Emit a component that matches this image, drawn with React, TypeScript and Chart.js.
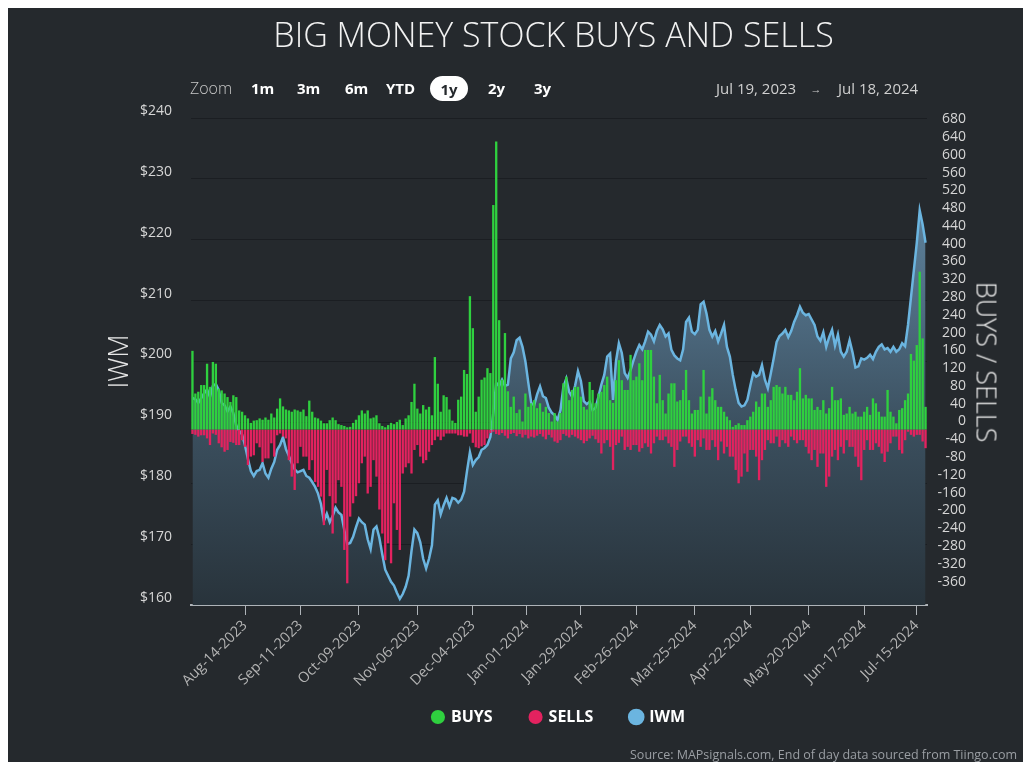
import React, { useEffect, useRef } from "react";
import { Chart, registerables } from "chart.js";

Chart.register(...registerables);

// ---------- data ----------
const FIRST_DAY = "2023-07-19";
const LAST_DAY = "2024-07-18";
const MARKET_HOLIDAYS = [
  "2023-09-04", "2023-11-23", "2023-12-25", "2024-01-01", "2024-01-15",
  "2024-02-19", "2024-03-29", "2024-05-27", "2024-06-19", "2024-07-04",
];

const IWM = [
  194.0, 193.8, 193.2, 194.0, 194.8, 195.4, 194.2, 196.0, 196.3, 195.3,
  193.2, 192.8, 191.8, 192.6, 191.5, 189.5, 188.6, 188.0, 186.2, 184.0,
  182.0, 181.2, 182.0, 182.2, 183.3, 181.6, 180.9, 182.4, 183.5, 185.5,
  186.3, 187.6, 185.6, 184.5, 183.3, 182.3, 181.8, 182.0, 182.2, 181.2,
  180.9, 180.2, 179.4, 178.3, 176.6, 173.8, 175.0, 173.6, 174.6, 176.0,
  175.2, 174.8, 172.3, 170.0, 170.2, 171.2, 172.8, 174.2, 173.6, 173.2,
  170.8, 169.2, 172.4, 172.9, 171.0, 168.3, 165.8, 164.8, 163.8, 163.2,
  162.0, 161.0, 161.8, 163.0, 164.8, 168.9, 172.4, 171.8, 170.3, 167.6,
  166.0, 167.6, 169.8, 176.5, 177.2, 174.9, 176.4, 177.6, 176.2, 177.6,
  177.4, 176.8, 177.3, 178.6, 182.0, 185.1, 183.0, 183.8, 184.3, 185.5,
  185.8, 186.3, 187.6, 191.5, 196.5, 196.0, 197.0, 196.0, 196.2, 200.5,
  201.5, 203.5, 203.9, 202.4, 200.0, 196.5, 193.2, 192.8, 194.6, 195.9,
  194.3, 194.0, 192.4, 191.6, 191.2, 190.4, 192.0, 195.8, 197.2, 195.0,
  194.2, 196.0, 198.4, 196.8, 193.5, 193.0, 193.4, 192.0, 192.4, 194.2,
  196.2, 197.8, 200.8, 201.3, 193.7, 200.0, 203.0, 201.4, 198.1, 197.3,
  198.6, 200.2, 201.6, 202.7, 202.0, 203.3, 204.9, 204.4, 203.3, 205.0,
  206.0, 205.3, 204.1, 204.6, 201.9, 201.0, 200.5, 200.2, 202.0, 206.5,
  207.2, 204.9, 204.5, 205.2, 209.4, 209.8, 207.9, 205.2, 204.1, 205.0,
  203.3, 204.6, 206.0, 202.4, 200.8, 197.8, 195.3, 193.2, 192.6, 192.8,
  193.7, 196.0, 198.1, 197.5, 197.8, 199.4, 197.0, 195.6, 198.0, 200.5,
  203.2, 204.2, 204.6, 205.2, 204.0, 205.0, 206.5, 207.6, 209.0, 208.0,
  207.6, 207.8, 206.9, 206.0, 204.1, 203.4, 204.8, 202.4, 204.0, 205.2,
  202.6, 204.4, 201.6, 200.8, 201.6, 203.5, 201.5, 199.0, 199.2, 200.5,
  200.3, 200.6, 201.1, 200.4, 201.6, 202.4, 202.8, 202.0, 202.2, 201.6,
  202.4, 201.6, 202.0, 203.0, 202.5, 206.0, 210.5, 215.0, 219.5, 224.8,
  222.5, 219.5,
];

const BUYS = [
  177, 81, 85, 100, 100, 148, 96, 152, 148, 92,
  88, 81, 73, 62, 77, 73, 43, 40, 32, 25,
  15, 20, 21, 25, 22, 27, 22, 36, 27, 47,
  70, 52, 45, 43, 40, 45, 43, 40, 45, 30,
  65, 40, 27, 25, 20, 14, 14, 21, 27, 21,
  12, 10, 8, 5, 6, 15, 22, 32, 43, 36,
  43, 25, 27, 32, 14, 8, 5, 10, 15, 12,
  17, 22, 10, 25, 32, 62, 103, 47, 36, 55,
  45, 51, 32, 163, 103, 40, 77, 73, 45, 20,
  15, 67, 74, 134, 125, 300, 228, 40, 74, 112,
  117, 138, 127, 505, 648, 246, 112, 217, 86, 51,
  74, 37, 45, 18, 81, 51, 59, 66, 48, 59,
  40, 51, 37, 18, 37, 18, 37, 104, 119, 66,
  89, 96, 96, 74, 51, 45, 107, 89, 59, 81,
  85, 100, 119, 66, 60, 111, 156, 111, 89, 89,
  168, 111, 119, 149, 111, 179, 179, 179, 119, 59,
  123, 66, 36, 81, 104, 104, 63, 66, 89, 134,
  66, 36, 44, 44, 74, 134, 36, 74, 93, 66,
  51, 51, 40, 29, 21, 6, 10, 14, 10, 10,
  21, 29, 40, 63, 51, 81, 81, 51, 66, 96,
  100, 96, 81, 96, 78, 78, 66, 85, 138, 70,
  78, 70, 70, 44, 51, 44, 66, 36, 48, 96,
  66, 66, 70, 33, 36, 51, 36, 40, 29, 29,
  40, 51, 33, 70, 59, 40, 29, 29, 89, 40,
  29, 14, 44, 48, 66, 81, 170, 155, 190, 355,
  205, 51,
];

const SELLS = [
  -10, -12, -16, -13, -13, -20, -35, -9, -12, -31,
  -40, -50, -46, -28, -30, -35, -35, -24, -39, -80,
  -61, -58, -31, -40, -73, -65, -65, -31, -61, -13,
  -9, -16, -20, -69, -106, -136, -76, -39, -61, -61,
  -91, -69, -118, -129, -151, -215, -91, -150, -234, -166,
  -114, -129, -271, -346, -196, -166, -150, -121, -76, -61,
  -144, -129, -69, -106, -180, -234, -294, -256, -301, -166,
  -226, -271, -99, -85, -76, -99, -46, -35, -61, -76,
  -69, -50, -35, -24, -16, -24, -16, -9, -9, -9,
  -9, -13, -13, -16, -16, -9, -30, -40, -42, -38,
  -35, -20, -8, -5, -10, -12, -8, -14, -20, -10,
  -8, -15, -10, -18, -12, -20, -16, -18, -14, -10,
  -16, -22, -12, -18, -27, -30, -24, -10, -14, -18,
  -12, -16, -20, -24, -31, -26, -20, -14, -22, -30,
  -54, -31, -24, -39, -91, -35, -30, -16, -46, -39,
  -46, -35, -35, -50, -42, -31, -39, -54, -31, -16,
  -24, -24, -16, -31, -39, -84, -46, -27, -16, -16,
  -31, -39, -61, -24, -39, -20, -46, -46, -24, -39,
  -69, -27, -54, -39, -61, -61, -91, -121, -106, -54,
  -95, -46, -46, -61, -114, -69, -46, -24, -31, -31,
  -16, -39, -24, -31, -39, -16, -24, -31, -24, -24,
  -39, -54, -69, -46, -84, -54, -54, -129, -106, -61,
  -46, -69, -39, -54, -24, -39, -39, -61, -84, -114,
  -46, -24, -46, -46, -31, -39, -54, -73, -50, -31,
  -16, -16, -46, -54, -24, -5, -12, -16, -12, -12,
  -27, -42,
];

const X_TICK_DATES = [
  "2023-08-14", "2023-09-11", "2023-10-09", "2023-11-06", "2023-12-04",
  "2024-01-01", "2024-01-29", "2024-02-26", "2024-03-25", "2024-04-22",
  "2024-05-20", "2024-06-17", "2024-07-15",
];
const X_TICK_LABELS = [
  "Aug-14-2023", "Sep-11-2023", "Oct-09-2023", "Nov-06-2023", "Dec-04-2023",
  "Jan-01-2024", "Jan-29-2024", "Feb-26-2024", "Mar-25-2024", "Apr-22-2024",
  "May-20-2024", "Jun-17-2024", "Jul-15-2024",
];
const LEFT_TICKS = [160, 170, 180, 190, 200, 210, 220, 230, 240];
const RIGHT_TICKS = [
  680, 640, 600, 560, 520, 480, 440, 400, 360, 320, 280, 240, 200, 160, 120,
  80, 40, 0, -40, -80, -120, -160, -200, -240, -280, -320, -360,
];
const ZOOM_BUTTONS = ["1m", "3m", "6m", "YTD", "1y", "2y", "3y"];

// ---------- styles ----------
const FONT = "'Open Sans', 'Noto Sans', sans-serif";
const BG = "#25292d";
const GRID = "#1b1e22";
const AXIS = "#aeb3b8";
const GREEN = "#2fd03f";
const RED = "#e3225f";
const BLUE = "#6bb5e0";

function tradingDays(): string[] {
  const out: string[] = [];
  const d = new Date(FIRST_DAY + "T00:00:00Z");
  const end = new Date(LAST_DAY + "T00:00:00Z");
  while (d.getTime() <= end.getTime()) {
    const dow = d.getUTCDay();
    const s = d.toISOString().slice(0, 10);
    if (dow !== 0 && dow !== 6 && !MARKET_HOLIDAYS.includes(s)) out.push(s);
    d.setUTCDate(d.getUTCDate() + 1);
  }
  return out;
}

export default function App() {
  const ref = useRef<HTMLCanvasElement>(null);

  useEffect(() => {
    const canvas = ref.current;
    if (!canvas) return;
    const days = tradingDays();
    const tickPos = X_TICK_DATES.map((t) => {
      const k = days.findIndex((d) => d >= t);
      return days[k] === t ? k : k - 0.5;
    });

    const chart = new Chart(canvas, {
      type: "bar",
      data: {
        datasets: [
          {
            type: "bar",
            label: "BUYS",
            data: BUYS.map((v, i) => ({ x: i, y: v })),
            backgroundColor: GREEN,
            borderWidth: 0,
            yAxisID: "y1",
            grouped: false,
            barPercentage: 1,
            categoryPercentage: 0.8,
            order: 0,
          } as any,
          {
            type: "bar",
            label: "SELLS",
            data: SELLS.map((v, i) => ({ x: i, y: v })),
            backgroundColor: RED,
            borderWidth: 0,
            yAxisID: "y1",
            grouped: false,
            barPercentage: 1,
            categoryPercentage: 0.8,
            order: 0,
          } as any,
          {
            type: "line",
            label: "IWM",
            data: IWM.map((v, i) => ({ x: i, y: v })),
            borderColor: BLUE,
            borderWidth: 2.5,
            pointRadius: 0,
            pointBackgroundColor: BLUE,
            pointBorderColor: BLUE,
            tension: 0,
            yAxisID: "y",
            order: 1,
            fill: "start",
            backgroundColor: (ctx: any) => {
              const { chart: c } = ctx;
              const area = c.chartArea;
              if (!area) return "rgba(70,100,120,0.8)";
              const g = c.ctx.createLinearGradient(0, area.top, 0, area.bottom);
              g.addColorStop(0, "#6a93b0");
              g.addColorStop(0.4, "#4e6b81");
              g.addColorStop(0.65, "#3a4e5d");
              g.addColorStop(1, "#28333b");
              return g;
            },
          } as any,
        ],
      },
      options: {
        responsive: false,
        maintainAspectRatio: false,
        animation: false,
        events: [],
        layout: { padding: { left: 0, right: 57, top: 110, bottom: 27 } },
        plugins: {
          legend: {
            position: "bottom",
            fullSize: false,
            labels: {
              usePointStyle: true,
              pointStyle: "circle",
              boxWidth: 10,
              boxHeight: 10,
              padding: 38,
              color: "#ffffff",
              font: { family: FONT, size: 16, weight: "bold" },
            },
          },
          tooltip: { enabled: false },
        },
        scales: {
          x: {
            type: "linear",
            min: -0.5,
            max: days.length - 0.5,
            offset: false,
            afterBuildTicks: (s: any) => {
              s.ticks = tickPos.map((v) => ({ value: v }));
            },
            afterFit: (s: any) => {
              // height between plot bottom and legend; labels may overflow below
              s.height = 66;
              s._computeLabelArea = () => undefined;
            },
            grid: {
              display: true,
              drawOnChartArea: false,
              drawTicks: true,
              tickLength: 10,
              color: AXIS,
              lineWidth: 1,
              offset: false,
            },
            border: { display: true, color: AXIS, width: 2 },
            ticks: {
              autoSkip: false,
              maxRotation: 45,
              minRotation: 45,
              padding: 2,
              color: "#b4b4b4",
              font: { family: FONT, size: 14.5 },
              callback: (v: any) => {
                const k = tickPos.indexOf(Number(v));
                return k >= 0 ? X_TICK_LABELS[k] : "";
              },
            },
          },
          y: {
            position: "left",
            min: 160,
            max: 240,
            afterBuildTicks: (s: any) => {
              s.ticks = LEFT_TICKS.map((v) => ({ value: v }));
            },
            afterFit: (s: any) => {
              s.width = 183;
            },
            grid: { color: GRID, lineWidth: 1, drawTicks: false },
            border: { display: false },
            ticks: {
              autoSkip: false,
              padding: 19,
              labelOffset: -7,
              color: "#d6d6d6",
              font: { family: FONT, size: 14 },
              callback: (v: any) => "$" + v,
            },
            title: {
              display: true,
              text: "IWM",
              color: "#e6e6e6",
              font: { family: FONT, size: 27, weight: 300 },
              padding: { top: 95.8, bottom: 0 },
            },
          },
          y1: {
            position: "right",
            min: -394.8,
            max: 700.8,
            afterBuildTicks: (s: any) => {
              s.ticks = RIGHT_TICKS.map((v) => ({ value: v }));
            },
            afterFit: (s: any) => {
              s.width = 39;
            },
            grid: { display: false, drawOnChartArea: false, drawTicks: false },
            border: { display: false },
            ticks: {
              autoSkip: false,
              crossAlign: "far",
              padding: 0,
              labelOffset: -8,
              color: "#d6d6d6",
              font: { family: FONT, size: 14 },
            },
          },
        },
      } as any,
    });
    return () => chart.destroy();
  }, []);

  const zoomLeft = [243, 289, 337, 378, 422, 480, 526];

  return (
    <div
      style={{
        position: "relative",
        width: 1015,
        height: 754,
        background: BG,
        fontFamily: FONT,
        overflow: "hidden",
      }}
    >
      <canvas
        ref={ref}
        width={1015}
        height={754}
        style={{ position: "absolute", left: 0, top: 0, width: 1015, height: 754 }}
      />
      <div
        style={{
          position: "absolute",
          left: 545.5,
          top: 25.5,
          transform: "translate(-50%,-50%)",
          fontSize: 34,
          fontWeight: 300,
          color: "#f2f2f2",
          whiteSpace: "nowrap",
        }}
      >
        BIG MONEY STOCK BUYS AND SELLS
      </div>
      <div
        style={{
          position: "absolute",
          left: 182,
          top: 80,
          transform: "translateY(-50%)",
          fontSize: 16,
          fontWeight: 300,
          color: "#c8c8c8",
          whiteSpace: "nowrap",
        }}
      >
        Zoom
      </div>
      {ZOOM_BUTTONS.map((b, i) =>
        b === "1y" ? (
          <div
            key={b}
            style={{
              position: "absolute",
              left: zoomLeft[i],
              top: 68,
              width: 38,
              height: 25,
              borderRadius: 12.5,
              background: "#ffffff",
              color: "#25292d",
              fontSize: 15,
              fontWeight: 700,
              display: "flex",
              alignItems: "center",
              justifyContent: "center",
            }}
          >
            {b}
          </div>
        ) : (
          <div
            key={b}
            style={{
              position: "absolute",
              left: zoomLeft[i],
              top: 80,
              transform: "translateY(-50%)",
              fontSize: 15,
              fontWeight: 700,
              color: "#ffffff",
              whiteSpace: "nowrap",
            }}
          >
            {b}
          </div>
        )
      )}
      <div
        style={{
          position: "absolute",
          left: 708,
          top: 80,
          transform: "translateY(-50%)",
          fontSize: 15,
          color: "#d0d0d0",
          whiteSpace: "nowrap",
        }}
      >
        Jul 19, 2023
      </div>
      <div
        style={{
          position: "absolute",
          left: 808,
          top: 80,
          transform: "translate(-50%,-50%)",
          fontSize: 11,
          color: "#d0d0d0",
        }}
      >
        →
      </div>
      <div
        style={{
          position: "absolute",
          left: 830,
          top: 80,
          transform: "translateY(-50%)",
          fontSize: 15,
          color: "#d0d0d0",
          whiteSpace: "nowrap",
        }}
      >
        Jul 18, 2024
      </div>
      <div
        style={{
          position: "absolute",
          left: 979,
          top: 353.5,
          transform: "translate(-50%,-50%) rotate(90deg)",
          fontSize: 27,
          fontWeight: 300,
          color: "#e6e6e6",
          whiteSpace: "nowrap",
        }}
      >
        BUYS / SELLS
      </div>
      <div
        style={{
          position: "absolute",
          right: 6,
          top: 746,
          transform: "translateY(-50%)",
          fontSize: 12.5,
          color: "#9a9ea3",
          whiteSpace: "nowrap",
        }}
      >
        Source: MAPsignals.com, End of day data sourced from Tiingo.com
      </div>
    </div>
  );
}
